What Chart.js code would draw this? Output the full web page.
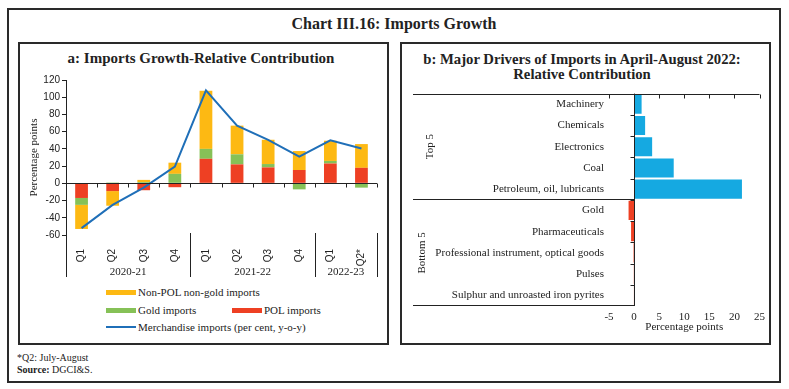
<!DOCTYPE html>
<html>
<head>
<meta charset="utf-8">
<script src="https://cdn.jsdelivr.net/npm/chart.js@4.4.1/dist/chart.umd.min.js"></script>
<style>
    body { margin: 0; background: #fff; font-family: "Liberation Serif", serif; color: #222; }
    #page { position: relative; width: 789px; height: 389px; overflow: hidden; }
    .box { position: absolute; border: 2px solid #2a2a2a; box-sizing: border-box; }
    .title { position: absolute; text-align: center; font-weight: bold; white-space: nowrap; }
    canvas { position: absolute; }
    .leg { position: absolute; font-size: 11px; line-height: 14px; white-space: nowrap; }
    .leg i { position: absolute; left: 0; }
    .note { position: absolute; left: 17px; font-size: 10px; line-height: 12px; }
</style>
</head>
<body>
<div id="page">
    <div class="box" style="left:7px; top:8px; width:774px; height:375px;"></div>
    <div class="title" style="left:7px; width:774px; top:15px; font-size:16px;">Chart III.16: Imports Growth</div>

    <div class="box" style="left:18px; top:42px; width:371px; height:303px;"></div>
    <div class="title" style="left:18px; width:366px; top:50px; font-size:15px;">a: Imports Growth-Relative Contribution</div>
    <canvas id="growthChart" width="368" height="215" style="left:19px; top:68px;"></canvas>
    <div id="growthLegend"></div>

    <div class="box" style="left:400px; top:42px; width:371px; height:303px;"></div>
    <div class="title" style="left:400px; width:364px; top:52px; font-size:14.7px; line-height:15px;">b: Major Drivers of Imports in April-August 2022:<br>Relative Contribution</div>
    <canvas id="driversChart" width="369" height="254" style="left:401px; top:82px;"></canvas>

    <div class="note" style="top:352px;">*Q2: July-August</div>
    <div class="note" style="top:364px;"><b>Source:</b> DGCI&amp;S.</div>
</div>

<script>
// Panel a data
const quarters = ['Q1', 'Q2', 'Q3', 'Q4', 'Q1', 'Q2', 'Q3', 'Q4', 'Q1', 'Q2*'];
const years = ['2020-21', '2021-22', '2022-23'];
const yearSpans = [4, 4, 2];
const polImports = [-17, -9, -8, -4.5, 28.5, 22, 18.5, 15.5, 23, 18];
const goldImports = [-8, 1, 1.5, 11, 11.5, 11.7, 3.9, -7, 3, -5];
const nonPolNonGold = [-28, -17, 2.5, 13, 67.5, 33.3, 28.2, 22, 23.5, 27.6];
const merchandise = [-52, -25, -5, 19.5, 108, 67, 50.5, 31, 50, 40.5];
const growthTicks = [-60, -40, -20, 0, 20, 40, 60, 80, 100, 120];

// Panel b data
const drivers = ['Machinery', 'Chemicals', 'Electronics', 'Coal', 'Petroleum, oil, lubricants',
    'Gold', 'Pharmaceuticals', 'Professional instrument, optical goods', 'Pulses',
    'Sulphur and unroasted iron pyrites'];
const contribution = [1.5, 2.2, 3.6, 7.9, 21.5, -1.1, -0.6, -0.1, -0.05, -0.03];
const groups = ['Top 5', 'Bottom 5'];
const groupSizes = [5, 5];
const driverTicks = [-5, 0, 5, 10, 15, 20, 25];

const YELLOW = '#fdb913', GREEN = '#86c157', RED = '#ee4023', LINE = '#1f6fb8', BLUE = '#15a9e1';

Chart.defaults.font.family = '"Liberation Serif", serif';
Chart.defaults.color = '#222';

// Zero line, quarter ticks, year groups for panel a
const growthAxes = {
    id: 'growthAxes',
    afterDraw(chart) {
        const { ctx, chartArea: a, scales: { y } } = chart;
        const step = (a.right - a.left) / quarters.length;
        const y0 = Math.round(y.getPixelForValue(0)) + 0.5;
        const left = Math.round(a.left) + 0.5;
        const bottom = a.bottom + 42;
        ctx.save();
        ctx.strokeStyle = '#222';
        ctx.lineWidth = 1;
        ctx.beginPath();
        ctx.moveTo(a.left, y0);
        ctx.lineTo(a.right, y0);
        for (let i = 1; i <= quarters.length; i++) {
            const px = Math.round(a.left + i * step) + 0.5;
            ctx.moveTo(px, y0);
            ctx.lineTo(px, y0 + 4);
        }
        ctx.moveTo(left, a.top);
        ctx.lineTo(left, bottom);
        ctx.font = '11px "Liberation Serif"';
        ctx.fillStyle = '#222';
        ctx.textAlign = 'center';
        ctx.textBaseline = 'middle';
        let idx = 0;
        years.forEach((yr, k) => {
            const start = idx;
            idx += yearSpans[k];
            const px = Math.round(a.left + idx * step) + 0.5;
            ctx.moveTo(px, a.bottom - 2);
            ctx.lineTo(px, bottom);
            ctx.fillText(yr, a.left + (start + idx) / 2 * step, a.bottom + 37);
        });
        ctx.stroke();
        ctx.restore();
    }
};

const growthChart = new Chart(document.getElementById('growthChart'), {
    type: 'bar',
    data: {
        labels: quarters,
        datasets: [
            { label: 'POL imports', data: polImports, backgroundColor: RED, stack: 'c', order: 1 },
            { label: 'Gold imports', data: goldImports, backgroundColor: GREEN, stack: 'c', order: 1 },
            { label: 'Non-POL non-gold imports', data: nonPolNonGold, backgroundColor: YELLOW, stack: 'c', order: 1 },
            { type: 'line', label: 'Merchandise imports (per cent, y-o-y)', data: merchandise, borderColor: LINE,
              borderWidth: 2, pointRadius: 0, tension: 0, fill: false, stack: 'm', order: 0 }
        ]
    },
    options: {
        responsive: false,
        animation: false,
        devicePixelRatio: 1,
        layout: { padding: { top: 12, right: 10, bottom: 6, left: 0 } },
        datasets: { bar: { barPercentage: 0.41, categoryPercentage: 1 } },
        plugins: { legend: { display: false }, tooltip: { enabled: false } },
        scales: {
            x: {
                stacked: true,
                grid: { display: false },
                border: { display: false },
                ticks: { minRotation: 90, maxRotation: 90, padding: 6,
                         font: { family: '"Liberation Sans"', size: 10 } },
                afterFit: s => { s.height = 42; }
            },
            y: {
                stacked: true,
                min: -60, max: 120,
                afterBuildTicks: s => { s.ticks = growthTicks.map(v => ({ value: v })); },
                grid: { drawOnChartArea: false, tickLength: 4, color: '#222' },
                border: { display: false },
                ticks: { padding: 2, font: { family: '"Liberation Sans"', size: 10 } },
                title: { display: true, text: 'Percentage points', font: { size: 11 }, padding: { top: 9, bottom: 0 } },
                afterFit: s => { s.width = 47; }
            }
        }
    },
    plugins: [growthAxes]
});

// Legend for panel a, laid out like the original
const legendSlots = [
    { ds: 2, left: 106, top: 285 },
    { ds: 1, left: 106, top: 303 },
    { ds: 0, left: 232, top: 303 },
    { ds: 3, left: 106, top: 320 }
];
const legendBox = document.getElementById('growthLegend');
legendSlots.forEach(slot => {
    const ds = growthChart.data.datasets[slot.ds];
    const isLine = ds.type === 'line';
    const item = document.createElement('div');
    item.className = 'leg';
    item.style.left = slot.left + 'px';
    item.style.top = slot.top + 'px';
    item.style.paddingLeft = '32px';
    item.innerHTML = `<i style="width:30px; height:${isLine ? 2 : 5}px; top:${isLine ? 6 : 5}px; background:${isLine ? ds.borderColor : ds.backgroundColor};"></i>${ds.label}`;
    legendBox.appendChild(item);
});

// Axis lines and Top/Bottom groups for panel b
const driverAxes = {
    id: 'driverAxes',
    afterDraw(chart) {
        const { ctx, chartArea: a, scales: { x } } = chart;
        const step = (a.bottom - a.top) / drivers.length;
        const x0 = Math.round(x.getPixelForValue(0)) + 0.5;
        const top = Math.round(a.top) + 0.5;
        const lineLeft = 12;
        const labelX = [29, 21];
        ctx.save();
        ctx.strokeStyle = '#222';
        ctx.lineWidth = 1;
        ctx.beginPath();
        ctx.moveTo(lineLeft, top);
        ctx.lineTo(a.right, top);
        driverTicks.forEach(v => {
            const px = Math.round(x.getPixelForValue(v)) + 0.5;
            ctx.moveTo(px, top);
            ctx.lineTo(px, top + 4);
        });
        ctx.moveTo(x0, a.top);
        ctx.lineTo(x0, a.bottom);
        for (let i = 1; i < drivers.length; i++) {
            const py = Math.round(a.top + i * step) + 0.5;
            ctx.moveTo(x0 - 4, py);
            ctx.lineTo(x0, py);
        }
        ctx.font = '11px "Liberation Serif"';
        ctx.fillStyle = '#222';
        ctx.textAlign = 'center';
        ctx.textBaseline = 'middle';
        let idx = 0;
        groups.forEach((g, k) => {
            const start = idx;
            idx += groupSizes[k];
            const py = Math.round(a.top + idx * step) - 0.5;
            ctx.moveTo(lineLeft, py);
            ctx.lineTo(x0, py);
            ctx.save();
            ctx.translate(labelX[k], a.top + (start + idx) / 2 * step);
            ctx.rotate(-Math.PI / 2);
            ctx.fillText(g, 0, 0);
            ctx.restore();
        });
        ctx.stroke();
        ctx.restore();
    }
};

new Chart(document.getElementById('driversChart'), {
    type: 'bar',
    data: {
        labels: drivers,
        datasets: [{
            data: contribution,
            backgroundColor: contribution.map(v => v >= 0 ? BLUE : RED),
            barPercentage: 0.9,
            categoryPercentage: 1
        }]
    },
    options: {
        indexAxis: 'y',
        responsive: false,
        animation: false,
        devicePixelRatio: 1,
        layout: { padding: { top: 0, right: 8, bottom: 0, left: 0 } },
        plugins: { legend: { display: false }, tooltip: { enabled: false } },
        scales: {
            x: {
                min: -5, max: 25,
                afterBuildTicks: s => { s.ticks = driverTicks.map(v => ({ value: v })); },
                grid: { display: false, drawTicks: false },
                border: { display: false },
                ticks: { padding: 5, font: { size: 11 } },
                title: { display: true, text: 'Percentage points', font: { size: 11 }, padding: { top: 0, bottom: 2 } },
                afterFit: s => { s.height = 30; }
            },
            y: {
                grid: { display: false, drawTicks: false },
                border: { display: false },
                ticks: { padding: 5, font: { size: 11 }, autoSkip: false },
                afterFit: s => { s.width = 208; }
            }
        }
    },
    plugins: [driverAxes]
});
</script>
</body>
</html>
